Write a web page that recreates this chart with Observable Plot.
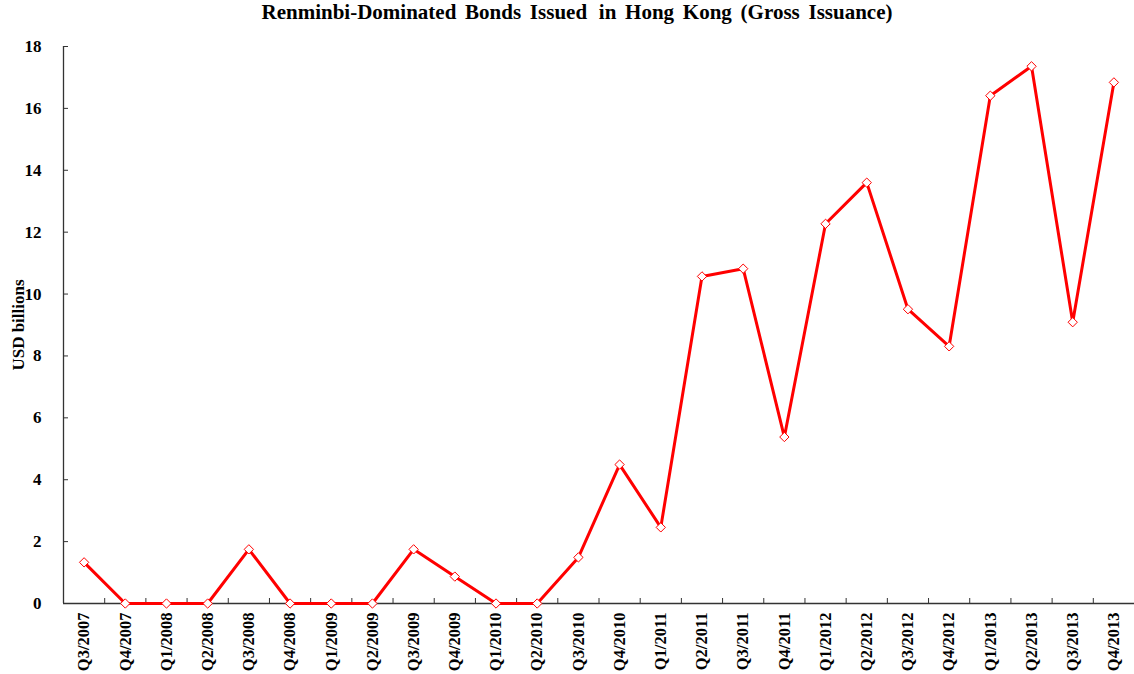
<!DOCTYPE html>
<html>
<head>
<meta charset="utf-8">
<script src="https://cdn.jsdelivr.net/npm/d3@7"></script>
<script src="https://cdn.jsdelivr.net/npm/@observablehq/plot@0.6"></script>
<style>
  html, body { margin: 0; padding: 0; background: #fff; }
  #title {
    height: 34px; line-height: 34px; width: 1134px; box-sizing: border-box;
    padding-left: 20px; text-align: center; word-spacing: 3.5px;
    font: bold 21px "Liberation Serif", "Times New Roman", serif; color: #000;
  }
  #title .gap { margin-left: 3px; }
  svg { display: block; }
</style>
</head>
<body>
<div id="title">Renminbi-Dominated Bonds Issued <span class="gap">in</span> Hong Kong (Gross Issuance)</div>
<div id="chart"></div>
<script>
// Quarterly gross issuance of renminbi bonds in Hong Kong, USD billions
const quarters = [
  "Q3/2007", "Q4/2007", "Q1/2008", "Q2/2008", "Q3/2008", "Q4/2008",
  "Q1/2009", "Q2/2009", "Q3/2009", "Q4/2009", "Q1/2010", "Q2/2010",
  "Q3/2010", "Q4/2010", "Q1/2011", "Q2/2011", "Q3/2011", "Q4/2011",
  "Q1/2012", "Q2/2012", "Q3/2012", "Q4/2012", "Q1/2013", "Q2/2013",
  "Q3/2013", "Q4/2013"
];
const issuance = [
  1.33, 0, 0, 0, 1.75, 0,
  0, 0, 1.75, 0.87, 0, 0,
  1.49, 4.49, 2.46, 10.57, 10.82, 5.38,
  12.27, 13.6, 9.51, 8.31, 16.41, 17.36,
  9.09, 16.84
];
const yTicks = [0, 2, 4, 6, 8, 10, 12, 14, 16, 18];

const rows = quarters.map((q, i) => ({i, q, v: issuance[i]}));
const bounds = d3.range(quarters.length + 1).map(i => i - 0.5);
const font = `"Liberation Serif", "Times New Roman", serif`;
const axisColor = "#333";

const chart = Plot.plot({
  width: 1134,
  height: 640,
  marginTop: 12,
  marginBottom: 71,
  marginLeft: 63,
  marginRight: 0,
  style: {fontFamily: font, fontWeight: "bold", fontSize: "16px", color: "#000", background: "#fff"},
  x: {type: "linear", domain: [-0.5, quarters.length - 0.5]},
  y: {domain: [0, 18]},
  marks: [
    // axis lines
    Plot.ruleX([-0.5], {stroke: axisColor, strokeWidth: 1.3}),
    Plot.ruleY([0], {stroke: axisColor, strokeWidth: 1.3}),
    // y axis: inward ticks, then labels
    Plot.axisY(yTicks, {tickSize: -5, tickFormat: () => "", stroke: axisColor, label: null}),
    Plot.axisY(yTicks, {tickSize: 0, tickPadding: 22, fontSize: 17, label: null}),
    // y axis title
    Plot.axisY({ticks: [], tickSize: 0, label: "USD billions", labelAnchor: "center", labelArrow: "none", labelOffset: 52, fontSize: 17}),
    // x axis: ticks at quarter boundaries, labels at quarter centres
    Plot.axisX(bounds, {tickSize: -5, tickFormat: () => "", stroke: axisColor, label: null}),
    Plot.axisX(d3.range(quarters.length), {tickSize: 0, tickPadding: 9, tickRotate: -90, tickFormat: i => quarters[i], fontSize: 16.5, label: null}),
    // series
    Plot.line(rows, {x: "i", y: "v", stroke: "#ff0000", strokeWidth: 3}),
    Plot.dot(rows, {x: "i", y: "v", symbol: "diamond2", r: 4.2, fill: "#fff", stroke: "#ff0000", strokeWidth: 1})
  ]
});
document.getElementById("chart").append(chart);
</script>
</body>
</html>
